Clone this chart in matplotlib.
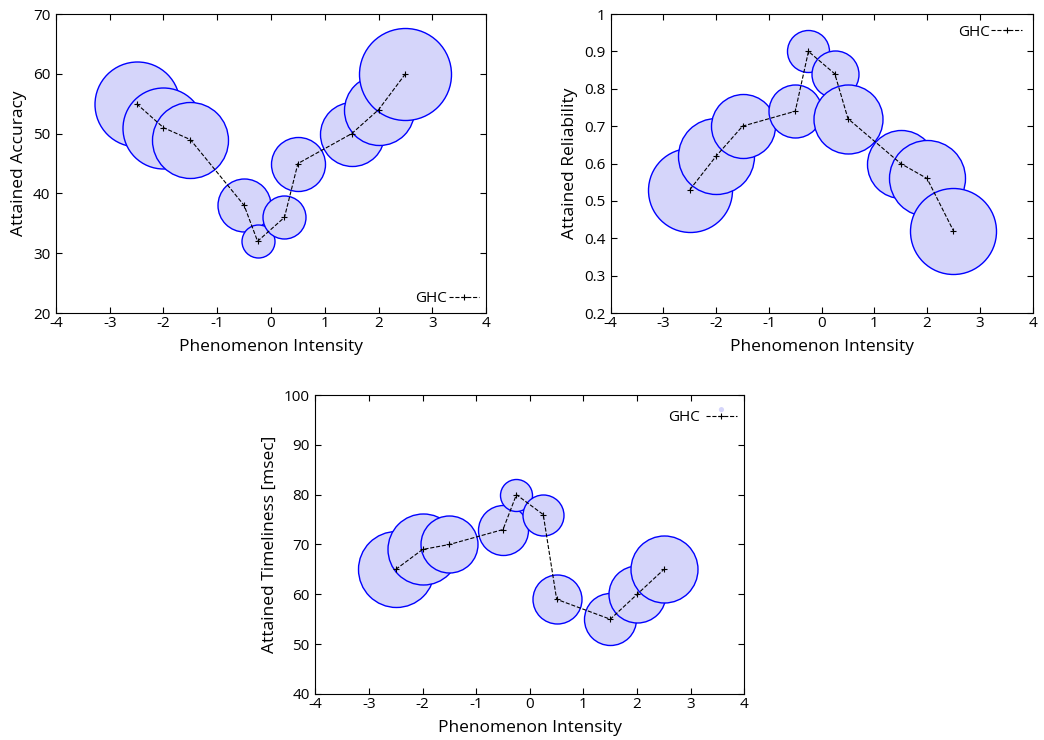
import numpy as np
import matplotlib
matplotlib.use('Agg')
import matplotlib.pyplot as plt
from matplotlib.ticker import FormatStrFormatter

plt.rcParams['font.family'] = ['Open Sans', 'DejaVu Sans']
plt.rcParams['axes.unicode_minus'] = False

# phenomenon intensity levels
intensity = [-2.5, -2, -1.5, -0.5, -0.25, 0.25, 0.5, 1.5, 2, 2.5]

# attained values per QoS metric
accuracy = [55, 51, 49, 38, 32, 36, 45, 50, 54, 60]
reliability = [0.53, 0.62, 0.70, 0.74, 0.90, 0.84, 0.72, 0.60, 0.56, 0.42]
timeliness = [65, 69, 70, 73, 80, 76, 59, 55, 60, 65]

# spread of each result (bubble diameter)
accuracy_spread = [85, 81, 76, 53, 33, 43, 54, 64, 70, 92]
reliability_spread = [84, 76, 64, 53, 42, 47, 69, 68, 76, 86]
timeliness_spread = [76, 71, 57, 50, 32, 41, 49, 52, 57, 67]

DPI = 100
fig = plt.figure(figsize=(10.44, 7.4), dpi=DPI)

ax1 = fig.add_axes([0.0536, 0.577, 0.412, 0.404])
ax2 = fig.add_axes([0.585, 0.577, 0.404, 0.404])
ax3 = fig.add_axes([0.302, 0.0622, 0.411, 0.404])

panels = [
    (ax1, accuracy, accuracy_spread, 'Attained Accuracy', (20, 70), 10, 'lower right', 0.05),
    (ax2, reliability, reliability_spread, 'Attained Reliability', (0.2, 1.0), 0.1, 'upper right', 0.3),
    (ax3, timeliness, timeliness_spread, 'Attained Timeliness [msec]', (40, 100), 10, 'upper right', 0.1),
]

for ax, vals, spread, ylabel, ylim, ystep, legloc, pad in panels:
    # bubbles drawn one by one so later ones sit on top
    for x, y, d in zip(intensity, vals, spread):
        s = (np.array(d) * 72.0 / DPI) ** 2
        ax.scatter([x], [y], s=s, facecolor='#d5d5fa', edgecolor='#0000ff',
                   linewidth=1.0, zorder=2)
    line, = ax.plot(intensity, vals, linestyle='--', color='black', linewidth=0.8,
                    marker='+', markersize=4, markeredgewidth=0.8, label='GHC', zorder=3)
    ax.set_xlim(-4, 4)
    ax.set_ylim(*ylim)
    ax.set_xticks(np.arange(-4, 5, 1))
    ax.set_yticks(np.arange(ylim[0], ylim[1] + ystep / 2, ystep))
    ax.yaxis.set_major_formatter(FormatStrFormatter('%g'))
    ax.tick_params(direction='in', top=True, right=True, length=4,
                   labelsize=11, pad=2)
    ax.tick_params(axis='y', pad=4)
    ax.set_xlabel('Phenomenon Intensity', fontsize=12.5, labelpad=6)
    ax.set_ylabel(ylabel, fontsize=12.5, labelpad=4)
    if ax is ax3:
        # small bubble key sits just above the line key
        dot = ax.scatter([], [], s=14, facecolor='#d5d5fa', edgecolor='none')
        ax.legend([dot, line], [' ', 'GHC'], loc=legloc, frameon=False,
                  markerfirst=False, fontsize=11, handlelength=2.0,
                  handletextpad=0.4, borderaxespad=pad, labelspacing=-0.5,
                  scatterpoints=1)
    else:
        ax.legend(loc=legloc, frameon=False, markerfirst=False, fontsize=11,
                  handlelength=2.0, handletextpad=0.1, borderaxespad=pad)

fig.savefig('out.png', dpi=DPI)
